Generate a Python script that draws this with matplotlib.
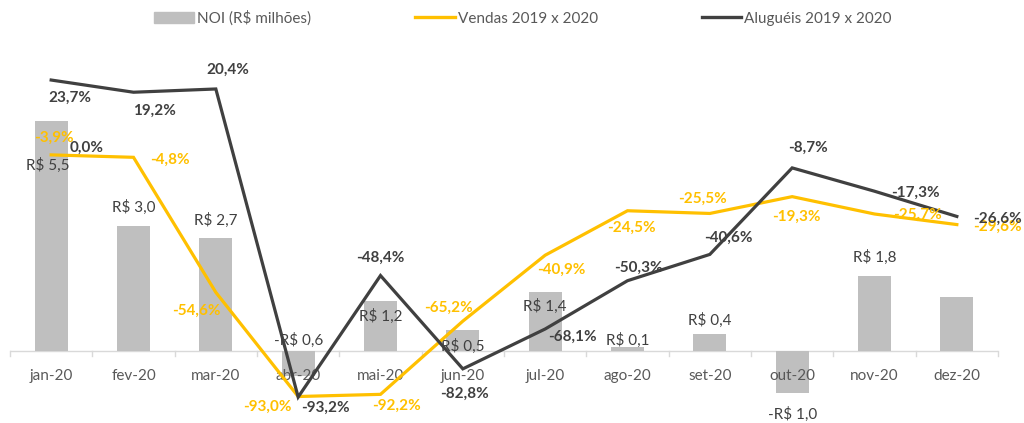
import matplotlib
matplotlib.use("Agg")
import matplotlib.pyplot as plt
from matplotlib.lines import Line2D
from matplotlib.patches import Patch

plt.rcParams['font.family'] = ['Lato', 'DejaVu Sans']

months = ['jan-20', 'fev-20', 'mar-20', 'abr-20', 'mai-20', 'jun-20',
          'jul-20', 'ago-20', 'set-20', 'out-20', 'nov-20', 'dez-20']
noi = [5.5, 3.0, 2.7, -0.6, 1.2, 0.5, 1.4, 0.1, 0.4, -1.0, 1.8, 1.3]
noi_labelled = [True] * 11 + [False]
vendas = [-3.9, -4.8, -54.6, -93.0, -92.2, -65.2, -40.9, -24.5, -25.5, -19.3, -25.7, -29.6]
alugueis = [23.7, 19.2, 20.4, -93.2, -48.4, -82.8, -68.1, -50.3, -40.6, -8.7, -17.3, -26.6]

BAR = '#BFBFBF'
YEL = '#FFC000'
DARK = '#404040'

# label offsets in pixels (dx, dy), tuned by eye against the reference
noi_off = [(-3, -44), (0, 18), (0, 18), (0, 36), (0, -16), (0, -16),
           (0, -14), (0, 6), (0, 14), (0, -22), (0, 18), (0, 0)]
ven_off = [(3, 17), (36, -2), (-19, -18), (-31, -10), (16, -11), (-14, 13),
           (16, -15), (4, -17), (-7, 15), (4, -20), (43, -1), (41, -2)]
alu_off = [(19, -18), (21, -19), (12, 19), (27, -11), (0, 18), (2, -25),
           (27, -8), (11, 13), (19, 17), (16, 20), (41, -2), (41, -2)]

fig = plt.figure(figsize=(10.24, 4.23), dpi=100)
W, H = 1024, 423
ax = fig.add_axes([10 / W, 3 / H, 988 / W, 380 / H])
ax2 = ax.twinx()

x = list(range(len(months)))
ax.bar(x, noi, width=0.4, color=BAR, zorder=2)
ax.set_xlim(-0.5, len(months) - 0.5)
ax.set_ylim(-1.651, 7.44)
ax2.set_ylim(-101.66, 38.46)

ax2.plot(x, vendas, color=YEL, lw=2.3, solid_joinstyle='miter', zorder=3)
ax2.plot(x, alugueis, color=DARK, lw=2.3, solid_joinstyle='miter', zorder=4)

# axis styling: only the zero line with category ticks
for a in (ax, ax2):
    for s in a.spines.values():
        s.set_visible(False)
    a.set_yticks([])
ax.axhline(0, color='#D9D9D9', lw=1, zorder=1)
ax.set_xticks([])
for i in range(len(months) + 1):
    ax.plot([i - 0.5, i - 0.5], [0, -0.12], color='#D9D9D9', lw=1, clip_on=False, zorder=1)
for i, m in enumerate(months):
    ax.annotate(m, (i, 0), xytext=(0, -25), textcoords='offset pixels',
                ha='center', va='center', fontsize=11, color='#595959')

# data labels
for i, v in enumerate(noi):
    if not noi_labelled[i]:
        continue
    s = ('-R$ ' if v < 0 else 'R$ ') + f'{abs(v):.1f}'.replace('.', ',')
    ax.annotate(s, (i, v), xytext=noi_off[i], textcoords='offset pixels',
                ha='center', va='center', fontsize=11, color=DARK, zorder=6)
for i, v in enumerate(vendas):
    ax2.annotate(f'{v:.1f}%'.replace('.', ','), (i, v), xytext=ven_off[i],
                 textcoords='offset pixels', ha='center', va='center',
                 fontsize=11, fontweight='bold', color=YEL, zorder=6)
for i, v in enumerate(alugueis):
    ax2.annotate(f'{v:.1f}%'.replace('.', ','), (i, v), xytext=alu_off[i],
                 textcoords='offset pixels', ha='center', va='center',
                 fontsize=11, fontweight='bold', color=DARK, zorder=6)
# stray 0,0% label next to the first point
ax2.annotate('0,0%', (0, 0.0), xytext=(35, -3), textcoords='offset pixels',
             ha='center', va='center', fontsize=11, fontweight='bold', color=DARK)

handles = [Patch(color=BAR, label='NOI (R$ milhões)'),
           Line2D([], [], color=YEL, lw=2.4, label='Vendas 2019 x 2020'),
           Line2D([], [], color=DARK, lw=2.4, label='Aluguéis 2019 x 2020')]
fig.legend(handles=handles, loc='center', bbox_to_anchor=(523 / W, 1 - 18 / H), ncol=3,
           frameon=False, fontsize=11, handlelength=2.6, handletextpad=0.2,
           columnspacing=6.8, labelcolor='#595959')

fig.savefig('out.png', dpi=100)
